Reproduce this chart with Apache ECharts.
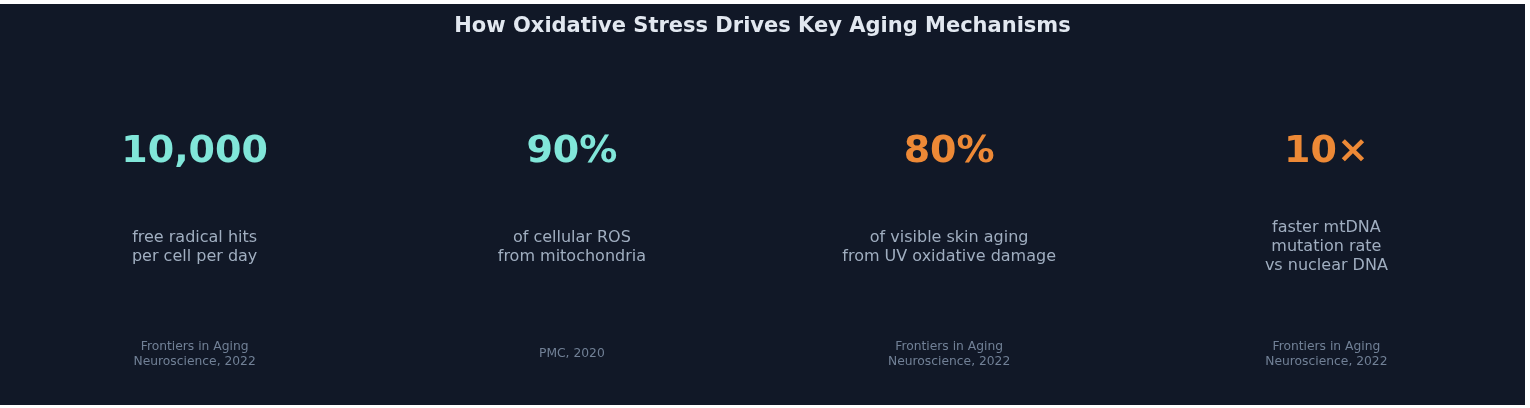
<!DOCTYPE html>
<html>
<head>
<meta charset="utf-8">
<script src="https://cdn.jsdelivr.net/npm/echarts@6/dist/echarts.min.js"></script>
<style>
  html, body { margin: 0; padding: 0; background: #ffffff; width: 1530px; height: 408px; overflow: hidden; }
  #chart { position: absolute; left: 0; top: 4px; width: 1525px; height: 401px; }
</style>
</head>
<body>
<div id="chart"></div>
<script>
const titleText = 'How Oxidative Stress Drives Key Aging Mechanisms';
const categories = ['radicals', 'ros', 'skin', 'mtdna'];
const statValues = ['10,000', '90%', '80%', '10×'];
const statDescriptions = [
  'free radical hits\nper cell per day',
  'of cellular ROS\nfrom mitochondria',
  'of visible skin aging\nfrom UV oxidative damage',
  'faster mtDNA\nmutation rate\nvs nuclear DNA'
];
const statSources = [
  'Frontiers in Aging\nNeuroscience, 2022',
  'PMC, 2020',
  'Frontiers in Aging\nNeuroscience, 2022',
  'Frontiers in Aging\nNeuroscience, 2022'
];

// layout & style (not data)
const ACCENTS = ['#81e6d9', '#81e6d9', '#ed8936', '#ed8936'];
const ROW_Y = { value: 148, desc: 243, source: 350 };
const FONT = "'DejaVu Sans', 'Noto Sans', sans-serif";

const chart = echarts.init(document.getElementById('chart'), null, { renderer: 'canvas' });

function rowSeries(name, texts, y, labelStyle, colorFn) {
  return {
    name: name,
    type: 'scatter',
    symbolSize: 1,
    itemStyle: { color: 'rgba(0,0,0,0)', opacity: 1 },
    silent: true,
    data: categories.map((c, i) => ({
      value: [c, y],
      label: Object.assign({
        show: true,
        position: 'inside',
        align: 'center',
        verticalAlign: 'middle',
        formatter: texts[i],
        fontFamily: FONT,
        opacity: 1
      }, labelStyle, colorFn ? { color: colorFn(i) } : {})
    }))
  };
}

chart.setOption({
  backgroundColor: '#111827',
  animation: false,
  title: {
    text: titleText,
    left: 'center',
    top: 7,
    textStyle: { color: '#e2e8f0', fontFamily: FONT, fontSize: 21, fontWeight: 'bold' }
  },
  grid: { left: 6, right: 10, top: 0, bottom: 0 },
  xAxis: {
    type: 'category',
    data: categories,
    show: false
  },
  yAxis: {
    type: 'value',
    min: 0,
    max: 401,
    inverse: true,
    show: false
  },
  series: [
    rowSeries('value', statValues, ROW_Y.value,
      { fontSize: 38, fontWeight: 'bold' }, i => ACCENTS[i]),
    rowSeries('desc', statDescriptions, ROW_Y.desc,
      { fontSize: 16, lineHeight: 19, color: '#a0aec0' }),
    rowSeries('source', statSources, ROW_Y.source,
      { fontSize: 12.3, lineHeight: 15, color: '#718096' })
  ]
});
</script>
</body>
</html>
